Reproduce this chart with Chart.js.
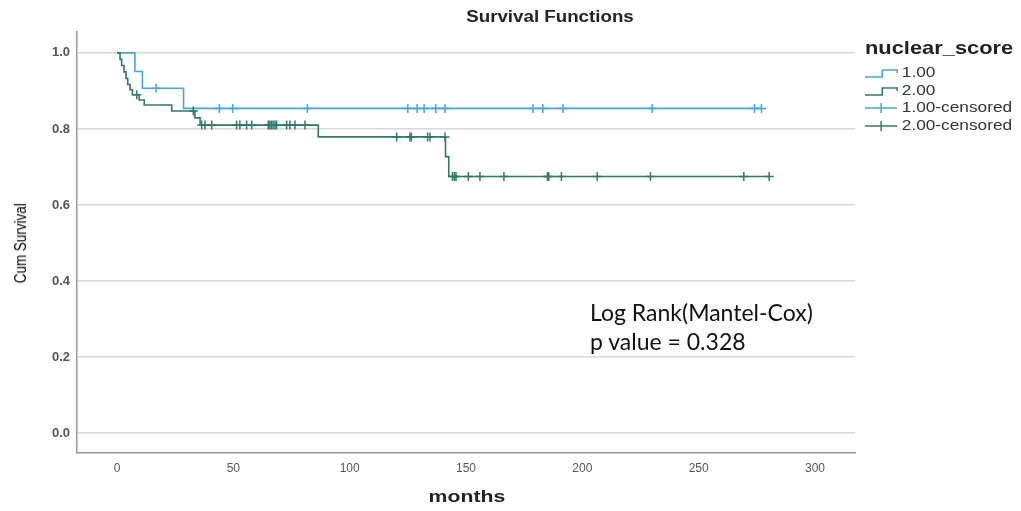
<!DOCTYPE html>
<html>
<head>
<meta charset="utf-8">
<script src="https://cdn.jsdelivr.net/npm/chart.js@4.4.1/dist/chart.umd.min.js"></script>
<style>
  body { margin: 0; background: #fff; }
  #wrap { position: relative; width: 1021px; height: 511px; font-family: "Liberation Sans", Arial, sans-serif; }
  #chart { position: absolute; left: 0; top: 0; }
  .txt { position: absolute; white-space: nowrap; }
  #title { left: 450px; width: 200px; top: 8px; text-align: center; font-weight: bold; font-size: 16px; color: #222; transform: scaleX(1.17); }
  #xtitle { left: 367px; width: 200px; top: 487px; text-align: center; font-weight: bold; font-size: 17px; color: #222; transform: scaleX(1.25); }
  #ytitle { left: -21px; top: 239px; width: 84px; text-align: center; font-size: 16px; color: #000; transform: rotate(-90deg) scaleX(0.84); }
  #legend { left: 865px; top: 37px; font-size: 15px; color: #333; transform: scaleX(1.15); transform-origin: 0 0; }
  #legend .head { font-weight: bold; font-size: 19px; color: #222; margin-bottom: 4px; }
  #legend .row { height: 17.6px; line-height: 17.6px; }
  #legend svg { vertical-align: middle; margin-right: 1px; }
  #note { left: 590px; top: 298px; font-family: Lato, "Open Sans", sans-serif; font-size: 23px; line-height: 29px; color: #111; }
</style>
</head>
<body>
<div id="wrap">
  <canvas id="chart" width="1021" height="511"></canvas>
  <div class="txt" id="title">Survival Functions</div>
  <div class="txt" id="xtitle">months</div>
  <div class="txt" id="ytitle">Cum Survival</div>
  <div class="txt" id="legend"></div>
  <div class="txt" id="note">Log Rank(Mantel-Cox)<br>p value = 0.328</div>
</div>
<script>
// Group 1.00 (event steps)
const blueTimes = [0, 7.7, 10.9, 28.6, 277];
const blueSurv = [1.0, 0.951, 0.907, 0.854, 0.854];
// Group 1.00 censored
const blueCensTimes = [16.8, 44, 49.7, 81.8, 125, 129, 132, 137, 141, 178.8, 183, 191.7, 230, 274, 277];
const blueCensSurv = [0.907, 0.854, 0.854, 0.854, 0.854, 0.854, 0.854, 0.854, 0.854, 0.854, 0.854, 0.854, 0.854, 0.854, 0.854];

// Group 2.00 (event steps)
const greenTimes = [0, 1.3, 2.0, 3.0, 3.9, 4.6, 5.6, 6.6, 9.5, 11.7, 23.5, 33.5, 35.7, 86.5, 141.2, 142.6, 280.3];
const greenSurv = [1.0, 0.983, 0.967, 0.95, 0.933, 0.917, 0.903, 0.89, 0.876, 0.863, 0.847, 0.829, 0.81, 0.779, 0.727, 0.675, 0.675];
// Group 2.00 censored
const greenCensTimes = [8.5, 32.8,
  36.4, 37.8, 40.7, 51.4, 52.8, 55.7, 57.9, 65, 65.7, 66.4, 67.1, 67.9, 68.6, 72.9, 74.3, 76.5, 80.8,
  120.2, 125.9, 126.5, 133.5, 134.5, 141,
  144.2, 145, 145.7, 151, 156, 166.3, 185, 185.6, 191, 206.4, 229.3, 269.4, 280.3];
const greenCensSurv = [0.89, 0.847,
  0.81, 0.81, 0.81, 0.81, 0.81, 0.81, 0.81, 0.81, 0.81, 0.81, 0.81, 0.81, 0.81, 0.81, 0.81, 0.81, 0.81,
  0.779, 0.779, 0.779, 0.779, 0.779, 0.779,
  0.675, 0.675, 0.675, 0.675, 0.675, 0.675, 0.675, 0.675, 0.675, 0.675, 0.675, 0.675, 0.675];

const xTicks = [0, 50, 100, 150, 200, 250, 300];
const yTicks = [0.0, 0.2, 0.4, 0.6, 0.8, 1.0];
const legendLabels = ['1.00', '2.00', '1.00-censored', '2.00-censored'];

const blue = '#42a5f0';
const green = '#2e7a70';

function pts(xs, ys) {
    return xs.map((x, i) => ({ x: x, y: ys[i] }));
}

new Chart(document.getElementById('chart'), {
    type: 'scatter',
    data: {
        datasets: [
            { label: legendLabels[0], type: 'line', data: pts(blueTimes, blueSurv), stepped: 'before',
              borderColor: blue, borderWidth: 1.6, pointRadius: 0, fill: false, order: 2 },
            { label: legendLabels[1], type: 'line', data: pts(greenTimes, greenSurv), stepped: 'before',
              borderColor: green, borderWidth: 1.6, pointRadius: 0, fill: false, order: 1 },
            { label: legendLabels[2], data: pts(blueCensTimes, blueCensSurv), pointStyle: 'cross',
              pointRadius: 4.5, borderColor: blue, borderWidth: 1.5, order: 0 },
            { label: legendLabels[3], data: pts(greenCensTimes, greenCensSurv), pointStyle: 'cross',
              pointRadius: 4.5, borderColor: green, borderWidth: 1.5, order: 0 }
        ]
    },
    options: {
        responsive: false,
        animation: false,
        events: [],
        layout: { padding: { top: 32, right: 166, bottom: 0, left: 0 } },
        plugins: { legend: { display: false }, tooltip: { enabled: false } },
        scales: {
            x: {
                type: 'linear', min: -17.2, max: 317.2,
                afterBuildTicks: s => { s.ticks = xTicks.map(v => ({ value: v })); },
                afterFit: s => { s.height = 58; },
                grid: { display: false, drawTicks: false },
                border: { display: true, color: '#9a9a9a', width: 1.5 },
                ticks: { padding: 8, color: '#555', font: { size: 12, family: 'Liberation Sans' } }
            },
            y: {
                type: 'linear', min: -0.0526, max: 1.055,
                afterBuildTicks: s => { s.ticks = yTicks.map(v => ({ value: v })); },
                afterFit: s => { s.width = 77; },
                grid: { color: '#d8d8d8', lineWidth: 1.5, drawTicks: false },
                border: { display: true, color: '#9a9a9a', width: 1.5 },
                ticks: { padding: 7, color: '#555', font: { size: 13, weight: 'bold', family: 'Liberation Sans' },
                         callback: v => v.toFixed(1) }
            }
        }
    }
});

// legend with step / cross icons
const legendColors = [blue, green, blue, green];
let html = '<div class="head">nuclear_score</div>';
legendLabels.forEach((lab, i) => {
    const c = legendColors[i];
    const icon = i < 2
        ? `<svg width="31" height="12"><path d="M0 10 H15 V3 H28 V6" stroke="${c}" stroke-width="1.3" fill="none"/></svg>`
        : `<svg width="31" height="12"><path d="M0 6 H28 M14 1 V11" stroke="${c}" stroke-width="1.3" fill="none"/></svg>`;
    html += `<div class="row">${icon}${lab}</div>`;
});
document.getElementById('legend').innerHTML = html;
</script>
</body>
</html>
